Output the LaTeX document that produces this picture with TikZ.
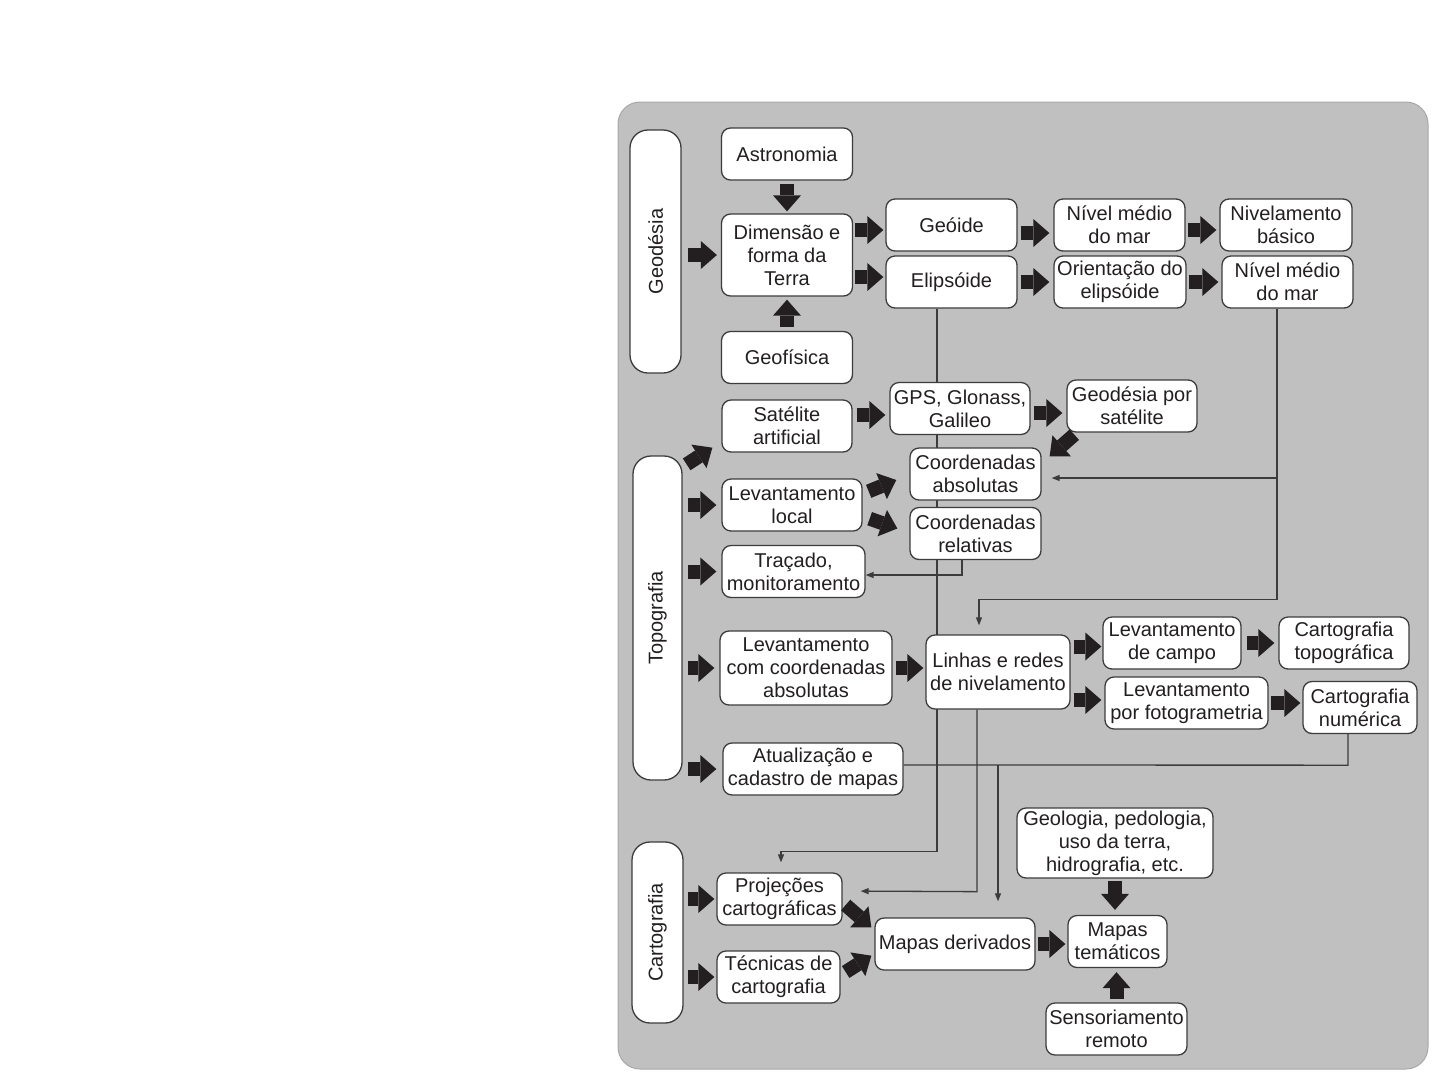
\documentclass[tikz,border=0pt]{standalone}
\usepackage{fontspec}
\setmainfont{Liberation Sans}
\usepackage{graphicx}
\usetikzlibrary{arrows.meta,calc}

\definecolor{bggray}{HTML}{C0C0C0}
\definecolor{bgedge}{HTML}{A8A8A8}
\definecolor{boxline}{HTML}{3C3C3C}
\definecolor{ink}{HTML}{231F20}

\pgfdeclarelayer{back}
\pgfdeclarelayer{lines}
\pgfsetlayers{back,lines,main}

\tikzset{
  box/.style={draw=boxline, fill=white, line width=1.3pt, rounded corners=9pt, align=center, text=ink, inner sep=1pt, minimum height=52pt, minimum width=#1},
  cat/.style={draw=boxline, fill=white, line width=1.3pt, rounded corners=18pt, text=ink, inner sep=0pt, minimum width=51pt, minimum height=#1},
  big/.style={draw=ink, line width=14pt, -{Triangle[length=16pt,width=28pt,line width=0pt]}, shorten <=3pt, shorten >=3pt},
  diag/.style={big, shorten <=0pt, shorten >=0pt},
  link/.style={draw=boxline, line width=1.3pt},
  linkto/.style={link, -{Triangle[length=8pt,width=6pt]}},
}

\begin{document}
\begin{tikzpicture}[x=1pt, y=-1pt, font=\fontsize{20}{23}\selectfont]
	\useasboundingbox (0,0) rectangle (1440,1080);
	\begin{pgfonlayer}{back}
		\fill[bggray, draw=bgedge, line width=1pt, rounded corners=22pt] (618,102) rectangle (1428,1069);
	\end{pgfonlayer}
	
	% side labels
	\node[cat=243pt] (GeodL) at (655.5,251.5) {\rotatebox{90}{Geodésia}};
	\node[cat=324pt, minimum width=49pt] (TopoL) at (657.5,618) {\rotatebox{90}{Topografia}};
	\node[cat=181pt] (CartL) at (657.5,932.5) {\rotatebox{90}{Cartografia}};
	
	% geodesia
	\node[box=131pt] (Ast) at (787,154) {Astronomia};
	\node[box=131pt, minimum height=82pt] (Dim) at (787,255) {Dimensão e\\forma da\\Terra};
	\node[box=131pt] (Gfis) at (787,357.5) {Geofísica};
	\node[box=131pt] (Geoi) at (951.5,225) {Geóide};
	\node[box=131pt] (Elip) at (951.5,282) {Elipsóide};
	\node[box=131pt] (Nmm) at (1119.5,225) {Nível médio\\do mar};
	\node[box=132pt] (Ori) at (1120,282) {Orientação do\\elipsóide};
	\node[box=132pt] (Nivb) at (1286,225) {Nivelamento\\básico};
	\node[box=131pt] (Nmm2) at (1287.5,282) {Nível médio\\do mar};
	
	% topografia
	\node[box=130pt] (Sat) at (787,426) {Satélite\\artificial};
	\node[box=140pt] (Gps) at (960,408.5) {GPS, Glonass,\\Galileo};
	\node[box=130pt] (Gsat) at (1132,406) {Geodésia por\\satélite};
	\node[box=131pt] (Cabs) at (975.5,474) {Coordenadas\\absolutas};
	\node[box=140pt] (Lloc) at (792,505) {Levantamento\\local};
	\node[box=131pt] (Crel) at (975.5,533.5) {Coordenadas\\relativas};
	\node[box=143pt] (Trac) at (793.5,571.5) {Traçado,\\monitoramento};
	\node[box=172pt, minimum height=74pt] (Lcoo) at (806,668) {Levantamento\\com coordenadas\\absolutas};
	\node[box=144pt, minimum height=74pt] (Lin) at (998,672) {Linhas e redes\\de nivelamento};
	\node[box=138pt] (Lcam) at (1172,643) {Levantamento\\de campo};
	\node[box=130pt] (Ctop) at (1344,643) {Cartografia\\topográfica};
	\node[box=163pt] (Lfot) at (1186.5,703) {Levantamento\\por fotogrametria};
	\node[box=114pt] (Cnum) at (1360,707.5) {Cartografia\\numérica};
	\node[box=180pt] (Atu) at (813,769) {Atualização e\\cadastro de mapas};
	
	% cartografia
	\node[box=125pt] (Proj) at (779.5,899) {Projeções\\cartográficas};
	\node[box=123pt] (Tec) at (778.5,977) {Técnicas de\\cartografia};
	\node[box=160pt] (Mder) at (955,944) {Mapas derivados};
	\node[box=196pt, minimum height=70pt] (Geol) at (1115,843) {Geologia, pedologia,\\uso da terra,\\hidrografia, etc.};
	\node[box=99pt] (Mtem) at (1117.5,941.5) {Mapas\\temáticos};
	\node[box=141pt] (Sens) at (1116.5,1029) {Sensoriamento\\remoto};
	
	% thin connectors, behind the boxes
	\begin{pgfonlayer}{lines}
		\draw[linkto, shorten >=10pt] ([xshift=-14.5pt]Elip.south) -- ++(0,543) -| ([xshift=1.5pt]Proj.north);
		\draw[linkto] ([xshift=-13.5pt]Crel.south) |- ([yshift=-3.5pt]Trac.east);
		\coordinate (J1) at ([xshift=-10.5pt]Nmm2.south);
		\draw[linkto, shorten >=9pt] (J1) -- ++(0,291) -| ([xshift=-19pt]Lin.north);
		\draw[linkto, shorten >=10pt] (J1 |- 0,478) -- (Cabs.east |- 0,478);
		\draw[linkto, shorten >=18pt] ([xshift=-21pt]Lin.south) -- ++(0,182) -- (Proj.east |- 0,891);
		\coordinate (J2) at ([xshift=-12pt]Cnum.south);
		\draw[link] (J2) -- ++(0,31) -- (Atu.east |- 0,765);
		\coordinate (J3) at ([xshift=43pt]Mder.north);
		\draw[linkto, shorten >=16pt] (J3 |- 0,765) -- (J3);
	\end{pgfonlayer}
	
	% block arrows
	\draw[big, shorten <=6pt, shorten >=4pt] (GeodL.east |- Dim.west) -- (Dim.west);
	\draw[big, shorten >=2pt] (Ast.south) -- (Dim.north);
	\draw[big, shorten <=4pt] (Gfis.north) -- (Dim.south);
	\draw[big, shorten <=2pt, shorten >=2pt] ($(Dim.east)+(0,-25)$) -- ($(Dim.east -| Geoi.west)+(0,-25)$);
	\draw[big, shorten <=2pt, shorten >=2pt] ($(Dim.east)+(0,22)$) -- ($(Dim.east -| Elip.west)+(0,22)$);
	\draw[big, shorten >=4pt] ($(Geoi.east)+(0,8)$) -- ($(Geoi.east -| Nmm.west)+(0,8)$);
	\draw[big, shorten >=4pt] (Elip.east) -- (Ori.west);
	\draw[big, shorten <=2pt] ($(Nmm.east)+(0,5)$) -- ($(Nmm.east -| Nivb.west)+(0,5)$);
	\draw[big, shorten <=2pt] (Ori.east) -- (Nmm2.west);
	
	\draw[diag] ($(TopoL.north east)+(4,9)$) -- ($(Sat.south west)+(-9,-5)$);
	\draw[big, shorten <=4pt, shorten >=4pt] ($(Sat.east)+(0,-11)$) -- ($(Sat.east -| Gps.west)+(0,-11)$);
	\draw[big, shorten >=4pt] ($(Gps.east)+(0,4.5)$) -- ($(Gps.east -| Gsat.west)+(0,4.5)$);
	\draw[diag] ($(Gsat.south west)+(8,2)$) -- ($(Cabs.north east)+(8,9)$);
	\draw[big, shorten <=5pt, shorten >=5pt] (TopoL.east |- Lloc.west) -- (Lloc.west);
	\draw[diag] ($(Lloc.north east)+(6,13)$) -- ($(Cabs.west)+(-13,6)$);
	\draw[diag] ($(Lloc.south east)+(7,-13)$) -- ($(Crel.west)+(-12,-5)$);
	\draw[big, shorten <=5pt, shorten >=5pt] (TopoL.east |- Trac.west) -- (Trac.west);
	\draw[big, shorten <=5pt, shorten >=5pt] (TopoL.east |- Lcoo.west) -- (Lcoo.west);
	\draw[big, shorten >=2pt] (Lcoo.east) -- (Lcoo.east -| Lin.west);
	\draw[big, shorten <=5pt, shorten >=6pt] (TopoL.east |- Atu.west) -- (Atu.west);
	\draw[big, shorten >=1pt] ($(Lin.east)+(0,-25.5)$) -- ($(Lin.east -| Lcam.west)+(0,-25.5)$);
	\draw[big] ($(Lin.east)+(0,28)$) -- ($(Lin.east -| Lfot.west)+(0,28)$);
	\draw[big, shorten <=5pt, shorten >=4pt] (Lcam.east) -- (Ctop.west);
	\draw[big, shorten <=2pt, shorten >=2pt] (Lfot.east) -- (Lfot.east -| Cnum.west);
	
	\draw[big, shorten <=4pt, shorten >=2pt] (CartL.east |- Proj.west) -- (Proj.west);
	\draw[big, shorten <=4pt, shorten >=2pt] (CartL.east |- Tec.west) -- (Tec.west);
	\draw[diag] ($(Proj.east)+(3,6)$) -- ($(Mder.north west)+(-3,10)$);
	\draw[diag] ($(Tec.east)+(5,-5)$) -- ($(Mder.south west)+(-3,-15)$);
	\draw[big, shorten <=2pt, shorten >=2pt] (Mder.east) -- (Mder.east -| Mtem.west);
	\draw[big, shorten <=2pt, shorten >=5pt] (Geol.south) -- (Geol.south |- Mtem.north);
	\draw[big, shorten >=4pt] (Sens.north) -- (Sens.north |- Mtem.south);
\end{tikzpicture}
\end{document}
